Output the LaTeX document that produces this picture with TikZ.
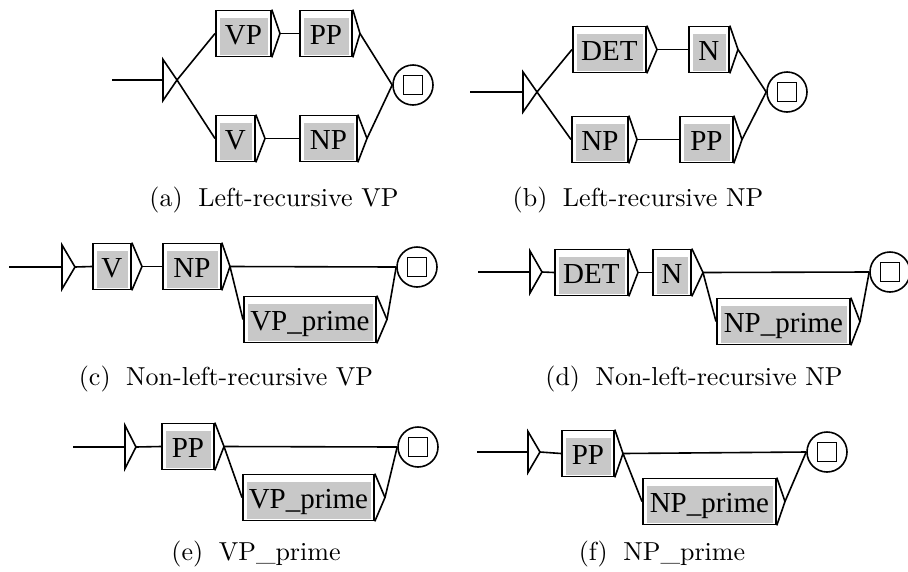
\documentclass[tikz,border=0pt]{standalone}
\usepackage{fontspec}
\newfontfamily\boxfont{Liberation Serif}
\newfontfamily\capfont{lmroman10-regular}[Extension=.otf]
\definecolor{boxgray}{RGB}{200,200,200}
\tikzset{
  gbox/.style={draw, line width=1.8pt, minimum height=46pt, inner sep=1pt,
    font=\boxfont\fontsize{29}{31}\selectfont, text height=21pt, text depth=0pt,
    path picture={\fill[boxgray] ([shift={(4pt,-7pt)}]path picture bounding box.north west)
      rectangle ([shift={(-3pt,2pt)}]path picture bounding box.south east);}},
  tri/.style={draw, line width=1.6pt, line join=miter},
  conn/.style={line width=1.6pt},
  final/.style={circle, draw, line width=1.6pt, minimum size=40pt, inner sep=0pt},
  fsq/.style={draw, line width=1.9pt},
  capt/.style={font=\capfont\fontsize{26}{30}\selectfont, inner sep=0pt, anchor=base}
}
\newcommand\gb[6]{% name, westx, eastx, cy, apexx, text
  \node[gbox, anchor=west, minimum width={#3-#2}] (#1) at (#2,#4) {#6};
  \coordinate (#1t) at (#5,#4);
  \draw[tri] (#1.north east) -- (#1t) -- (#1.south east);}
\newcommand\initst[6]{% name, startx, basex, apexx, cy, halfheight
  \coordinate (#1s) at (#2,#5);
  \coordinate (#1b) at (#3,#5);
  \coordinate (#1i) at (#4,#5);
  \draw[conn] (#1s) -- (#1b);
  \draw[tri] ([yshift=#6pt]#1b) -- (#1i) -- ([yshift=-#6pt]#1b) -- cycle;}
\newcommand\fin[3]{%
  \node[final] (#1) at (#2,#3) {};
  \draw[fsq] ([shift={(-9.5pt,-9.5pt)}]#1.center) rectangle ([shift={(9.5pt,9.5pt)}]#1.center);}
\begin{document}
\begin{tikzpicture}[x=1pt,y=-1pt]
\useasboundingbox (0,0) rectangle (908,571);
% (a)
\initst{a}{112}{163}{177}{80}{20.5}
\gb{avp}{215}{270}{33.5}{280}{VP}
\gb{app}{299}{351}{33.5}{360}{PP}
\gb{av}{215}{254}{138.5}{265}{V}
\gb{anp}{299}{356}{138.5}{367}{NP}
\fin{af}{413}{85}
\draw[conn] (ai) -- (avp.west);
\draw[conn] (ai) -- (av.west);
\draw[conn] (avpt) -- (app.west);
\draw[conn] (avt) -- (anp.west);
\draw[conn] (appt) -- (af.west);
\draw[conn] (anpt) -- (af.west);
\node[capt] (capa) at (274,206) {(a)\hspace{0.6em}Left-recursive VP};
% (b)
\initst{b}{470}{523}{537}{92}{20}
\gb{bdet}{572}{645}{49.5}{657}{DET}
\gb{bn}{688}{728}{49.5}{738}{N}
\gb{bnp}{571}{627}{139.5}{637}{NP}
\gb{bpp}{679}{732}{139.5}{742}{PP}
\fin{bf}{787}{92}
\draw[conn] (bi) -- (bdet.west);
\draw[conn] (bi) -- (bnp.west);
\draw[conn] (bdett) -- (bn.west);
\draw[conn] (bnpt) -- (bpp.west);
\draw[conn] (bnt) -- (bf.west);
\draw[conn] (bppt) -- (bf.west);
\node[capt] (capb) at (638,206) {(b)\hspace{0.6em}Left-recursive NP};
% (c)
\initst{c}{9}{62}{75}{267}{22}
\gb{cv}{92}{130}{266.5}{142}{V}
\gb{cnp}{162}{220}{266.5}{230}{NP}
\gb{cvpp}{243}{375}{319.5}{387}{VP\_prime}
\fin{cf}{417}{267}
\draw[conn] (ci) -- (cv.west);
\draw[conn] (cvt) -- (cnp.west);
\draw[conn] (cnpt) -- (cf.west);
\draw[conn] (cnpt) -- (cvpp.west);
\draw[conn] (cvppt) -- (cf.west);
\node[capt] (capc) at (226,385) {(c)\hspace{0.6em}Non-left-recursive VP};
% (d)
\initst{d}{478}{530}{542}{272}{21}
\gb{ddet}{554}{627}{272.5}{638}{DET}
\gb{dn}{652}{690}{272.5}{703}{N}
\gb{dnpp}{716}{849}{321.5}{860}{NP\_prime}
\fin{df}{890}{272}
\draw[conn] (di) -- (ddet.west);
\draw[conn] (ddett) -- (dn.west);
\draw[conn] (dnt) -- (df.west);
\draw[conn] (dnt) -- (dnpp.west);
\draw[conn] (dnppt) -- (df.west);
\node[capt] (capd) at (694,385) {(d)\hspace{0.6em}Non-left-recursive NP};
% (e)
\initst{e}{73}{125}{136}{447}{21.5}
\gb{epp}{161}{213}{446.5}{224}{PP}
\gb{evpp}{242}{373}{497.5}{385}{VP\_prime}
\fin{ef}{418}{447}
\draw[conn] (ei) -- (epp.west);
\draw[conn] (eppt) -- (ef.west);
\draw[conn] (eppt) -- (evpp.west);
\draw[conn] (evppt) -- (ef.west);
\node[capt] (cape) at (256,560) {(e)\hspace{0.6em}VP\_prime};
% (f)
\initst{f}{477}{528}{540}{452}{20.5}
\gb{fpp}{561}{613}{453.5}{623}{PP}
\gb{fnpp}{642}{775}{501.5}{785}{NP\_prime}
\fin{ff}{827}{452}
\draw[conn] (fi) -- (fpp.west);
\draw[conn] (fppt) -- (ff.west);
\draw[conn] (fppt) -- (fnpp.west);
\draw[conn] (fnppt) -- (ff.west);
\node[capt] (capf) at (662,560) {(f)\hspace{0.6em}NP\_prime};
\end{tikzpicture}
\end{document}
